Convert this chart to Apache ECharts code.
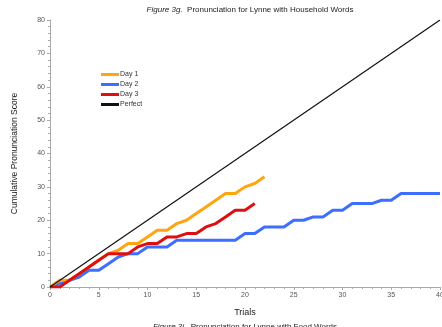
<!DOCTYPE html>
<html><head><meta charset="utf-8">
<script src="https://cdn.jsdelivr.net/npm/echarts@6/dist/echarts.min.js"></script>
<style>html,body{margin:0;padding:0;background:#fff}#c{width:442px;height:327px}</style>
</head><body><div id="c"></div>
<script>
var day1 = [0,2,2,4,6,8,10,11,13,13,15,17,17,19,20,22,24,26,28,28,30,31,33];
var day2 = [0,1,2,3,5,5,7,9,10,10,12,12,12,14,14,14,14,14,14,14,16,16,18,18,18,20,20,21,21,23,23,25,25,25,26,26,28,28,28,28,28];
var day3 = [0,0,2,4,6,8,10,10,10,12,13,13,15,15,16,16,18,19,21,23,23,25];
var perfectX = [0,40];
var perfectY = [0,80];
var seriesNames = ['Day 1','Day 2','Day 3','Perfect'];
var xTicks = [0,5,10,15,20,25,30,35,40];
var yTicks = [0,10,20,30,40,50,60,70,80];

function pairs(arr){return arr.map(function(v,i){return [i,v];});}
var chart = echarts.init(document.getElementById('c'), null, {renderer:'canvas'});
var axisCol = '#aaa';
chart.setOption({
  animation:false,
  backgroundColor:'#fff',
  textStyle:{fontFamily:'Liberation Sans, Arial, sans-serif'},
  title:[{
    text:'{i|Figure 3g.}  Pronunciation for Lynne with Household Words',
    left:245, textAlign:'center', top:1,
    textStyle:{fontSize:8, fontWeight:'normal', color:'#222', fontFamily:'Liberation Sans',
      rich:{i:{fontStyle:'italic', fontSize:8, color:'#222', fontFamily:'Liberation Sans'}}}
  },{
    text:'{i|Figure 3i.}  Pronunciation for Lynne with Food Words',
    left:245, textAlign:'center', top:323, padding:0,
    textStyle:{fontSize:8, fontWeight:'normal', color:'#222', fontFamily:'Liberation Sans',
      rich:{i:{fontStyle:'italic', fontSize:8, color:'#222', fontFamily:'Liberation Sans'}}}
  }],
  legend:{
    orient:'vertical', left:96, top:66, itemWidth:18, itemHeight:3, itemGap:3,
    icon:'rect',
    textStyle:{fontSize:7, color:'#333', padding:[0,0,0,-4]},
    data:seriesNames
  },
  grid:{left:50, right:2, top:20, bottom:40, outerBoundsMode:'none', containLabel:false},
  xAxis:{
    type:'value', min:0, max:40, interval:5,
    name:'Trials', nameLocation:'middle', nameGap:21,
    nameTextStyle:{fontSize:9, color:'#222'},
    axisLine:{lineStyle:{color:axisCol}},
    axisTick:{show:true, length:3, lineStyle:{color:axisCol}},
    minorTick:{show:true, splitNumber:5, length:2, lineStyle:{color:axisCol}},
    axisLabel:{fontSize:7, color:'#555', margin:5},
    splitLine:{show:false}
  },
  yAxis:{
    type:'value', min:0, max:80, interval:10,
    name:'Cumulative Pronunciation Score', nameLocation:'middle', nameGap:31,
    nameTextStyle:{fontSize:8.5, color:'#222'},
    axisLine:{show:true, lineStyle:{color:axisCol}},
    axisTick:{show:true, length:3, lineStyle:{color:axisCol}},
    minorTick:{show:true, splitNumber:5, length:2, lineStyle:{color:axisCol}},
    axisLabel:{fontSize:7, color:'#555', margin:5},
    splitLine:{show:false}
  },
  series:[
    {name:seriesNames[0], type:'line', data:pairs(day1), showSymbol:false, symbol:'none', color:'#FFA50F', lineStyle:{width:3, color:'#FFA50F'}, z:3},
    {name:seriesNames[1], type:'line', data:pairs(day2), showSymbol:false, symbol:'none', color:'#3D6EFF', lineStyle:{width:3, color:'#3D6EFF'}, z:2},
    {name:seriesNames[2], type:'line', data:pairs(day3), showSymbol:false, symbol:'none', color:'#DD1010', lineStyle:{width:3, color:'#DD1010'}, z:4},
    {name:seriesNames[3], type:'line', data:perfectX.map(function(x,i){return [x,perfectY[i]];}), showSymbol:false, symbol:'none', color:'#111', lineStyle:{width:1.2, color:'#111'}, z:5}
  ]
});
</script></body></html>
